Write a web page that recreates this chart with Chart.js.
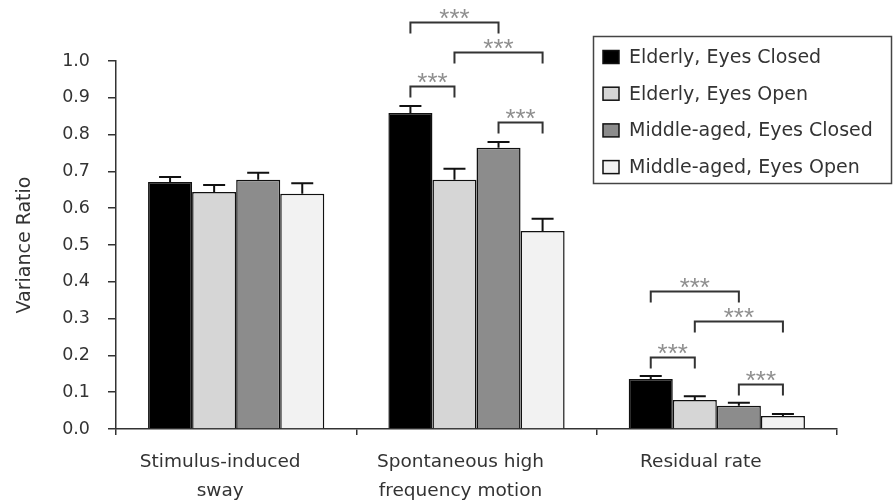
<!DOCTYPE html>
<html>
<head>
<meta charset="utf-8">
<script src="https://cdn.jsdelivr.net/npm/chart.js@4.4.1/dist/chart.umd.min.js"></script>
<style>
  html, body { margin: 0; padding: 0; background: #fff; }
  #wrap { width: 893px; height: 500px; }
</style>
</head>
<body>
<div id="wrap"><canvas id="c" width="893" height="500"></canvas></div>
<script>
// ---- data ----
const categories = [["Stimulus-induced", "sway"], ["Spontaneous high", "frequency motion"], ["Residual rate"]];
const seriesNames = ["Elderly, Eyes Closed", "Elderly, Eyes Open", "Middle-aged, Eyes Closed", "Middle-aged, Eyes Open"];
const elderlyClosed = [0.671, 0.859, 0.136];
const elderlyOpen = [0.644, 0.677, 0.079];
const middleClosed = [0.677, 0.764, 0.063];
const middleOpen = [0.639, 0.538, 0.035];
const elderlyClosedErr = [0.014, 0.019, 0.008];
const elderlyOpenErr = [0.019, 0.030, 0.010];
const middleClosedErr = [0.019, 0.016, 0.008];
const middleOpenErr = [0.029, 0.033, 0.006];
// significance brackets: [category index, series a, series b, bracket level]
const brackets = [
  [1, 0, 1, 0.932],
  [1, 0, 2, 1.106],
  [1, 1, 3, 1.024],
  [1, 2, 3, 0.834],
  [2, 0, 1, 0.196],
  [2, 0, 2, 0.375],
  [2, 1, 3, 0.293],
  [2, 2, 3, 0.122]
];
const sigLabel = "***";
const yTicks = [0, 0.1, 0.2, 0.3, 0.4, 0.5, 0.6, 0.7, 0.8, 0.9, 1.0];

const colors = ["#000000", "#d6d6d6", "#8c8c8c", "#f2f2f2"];
const values = [elderlyClosed, elderlyOpen, middleClosed, middleOpen];
const errors = [elderlyClosedErr, elderlyOpenErr, middleClosedErr, middleOpenErr];

const FONT = "'DejaVu Sans', sans-serif";

const errorBarPlugin = {
  id: 'errorBars',
  afterDatasetsDraw(chart) {
    const ctx = chart.ctx;
    const y = chart.scales.y;
    ctx.save();
    ctx.strokeStyle = '#111';
    ctx.lineWidth = 2;
    chart.data.datasets.forEach((ds, di) => {
      const meta = chart.getDatasetMeta(di);
      meta.data.forEach((el, i) => {
        const v = ds.data[i];
        const e = ds.errors[i];
        const yTop = y.getPixelForValue(v);
        const yErr = y.getPixelForValue(v + e);
        ctx.beginPath();
        ctx.moveTo(el.x, yTop);
        ctx.lineTo(el.x, yErr);
        ctx.moveTo(el.x - 11, yErr);
        ctx.lineTo(el.x + 11, yErr);
        ctx.stroke();
      });
    });
    ctx.restore();
  }
};

const bracketPlugin = {
  id: 'brackets',
  afterDatasetsDraw(chart) {
    const ctx = chart.ctx;
    const y = chart.scales.y;
    ctx.save();
    ctx.strokeStyle = '#333';
    ctx.lineWidth = 2;
    ctx.font = "26px 'Liberation Sans', Arial, sans-serif";
    ctx.fillStyle = '#8f8f8f';
    ctx.textAlign = 'center';
    ctx.textBaseline = 'alphabetic';
    brackets.forEach(([cat, a, b, lvl]) => {
      const x1 = chart.getDatasetMeta(a).data[cat].x;
      const x2 = chart.getDatasetMeta(b).data[cat].x;
      const yy = Math.round(y.getPixelForValue(lvl)) + 0.5;
      ctx.beginPath();
      ctx.moveTo(x1, yy + 11);
      ctx.lineTo(x1, yy);
      ctx.lineTo(x2, yy);
      ctx.lineTo(x2, yy + 11);
      ctx.stroke();
      ctx.fillText(sigLabel, (x1 + x2) / 2, yy + 4);
    });
    ctx.restore();
  }
};

const legendPlugin = {
  id: 'boxLegend',
  afterDraw(chart) {
    const ctx = chart.ctx;
    ctx.save();
    ctx.strokeStyle = '#444';
    ctx.lineWidth = 1.5;
    ctx.strokeRect(593.5, 36.5, 298, 147);
    ctx.font = "19px " + FONT;
    ctx.textBaseline = 'middle';
    ctx.textAlign = 'left';
    chart.data.datasets.forEach((ds, i) => {
      const cy = 57 + i * 36.7;
      ctx.fillStyle = ds.backgroundColor;
      ctx.fillRect(603, cy - 6.5, 16, 13);
      ctx.strokeStyle = '#111';
      ctx.lineWidth = 1.5;
      ctx.strokeRect(603, cy - 6.5, 16, 13);
      ctx.fillStyle = '#333';
      ctx.fillText(ds.label, 629, cy + 1);
    });
    ctx.restore();
  }
};

new Chart(document.getElementById('c'), {
  type: 'bar',
  data: {
    labels: categories,
    datasets: seriesNames.map((name, i) => ({
      label: name,
      data: values[i],
      errors: errors[i],
      backgroundColor: colors[i],
      borderColor: '#111',
      borderWidth: 1.5,
      categoryPercentage: 0.7333,
      barPercentage: 1.0
    }))
  },
  options: {
    responsive: false,
    animation: false,
    devicePixelRatio: 1,
    layout: { padding: { top: 61, right: 56, left: 0, bottom: 0 } },
    plugins: { legend: { display: false }, tooltip: { enabled: false } },
    scales: {
      x: {
        afterFit(s) { s.height = 71; },
        grid: { offset: true, drawOnChartArea: false, color: '#333', lineWidth: 1.5, tickLength: 6 },
        border: { display: true, color: '#333', width: 1.5 },
        ticks: {
          font: { family: FONT, size: 18.5, lineHeight: 1.57 },
          color: '#333',
          padding: 13,
          labelOffset: -16,
          maxRotation: 0,
          autoSkip: false
        }
      },
      y: {
        min: 0,
        max: 1.0,
        afterFit(s) { s.width = 116; },
        afterBuildTicks(s) { s.ticks = yTicks.map(v => ({ value: v })); },
        grid: { drawOnChartArea: false, color: '#333', lineWidth: 1.5, tickLength: 8 },
        border: { display: true, color: '#333', width: 1.5 },
        ticks: {
          font: { family: FONT, size: 17.5 },
          color: '#333',
          padding: 18,
          callback: v => Number(v).toFixed(1)
        },
        title: {
          display: true,
          text: 'Variance Ratio',
          color: '#333',
          font: { family: FONT, size: 19 },
          padding: { top: 14, bottom: 0 }
        }
      }
    }
  },
  plugins: [errorBarPlugin, bracketPlugin, legendPlugin]
});
</script>
</body>
</html>
